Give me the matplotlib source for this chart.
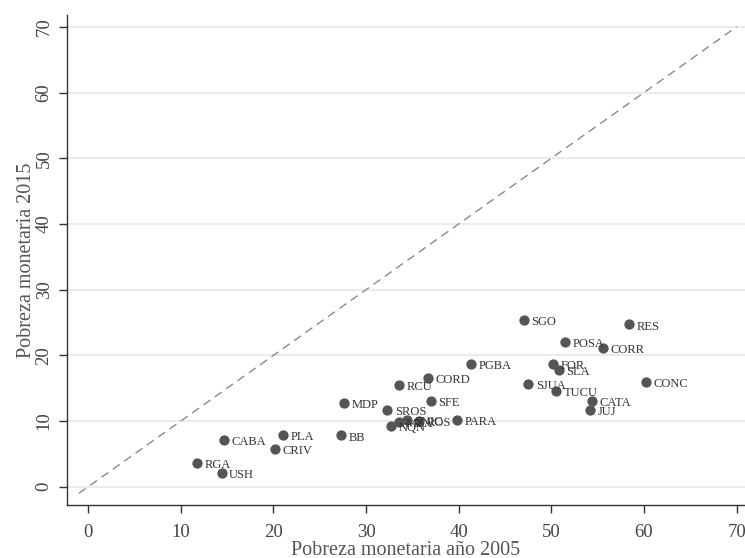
import matplotlib
matplotlib.use("Agg")
import matplotlib.pyplot as plt

labels = ["CABA", "PLA", "BB", "CRIV", "RGA", "USH", "PGBA", "CORD", "RCU", "MDP",
          "SROS", "SFE", "NQN", "MZA", "SNIC", "ROS", "PARA", "SGO", "RES", "POSA",
          "CORR", "FOR", "SLA", "SJUA", "TUCU", "CONC", "CATA", "JUJ"]
pobreza_2005 = [14.7, 21.0, 27.3, 20.2, 11.7, 14.4, 41.35, 36.7, 33.6, 27.6,
                32.3, 37.0, 32.7, 33.5, 34.4, 35.7, 39.8, 47.0, 58.4, 51.5,
                55.55, 50.2, 50.8, 47.5, 50.5, 60.2, 54.4, 54.2]
pobreza_2015 = [7.1, 7.9, 7.8, 5.7, 3.65, 2.1, 18.7, 16.6, 15.5, 12.7,
                11.7, 13.0, 9.3, 9.8, 10.15, 10.0, 10.15, 25.4, 24.7, 22.0,
                21.15, 18.7, 17.8, 15.7, 14.6, 15.9, 13.1, 11.7]
diag = [-1, 70]
ticks = [0, 10, 20, 30, 40, 50, 60, 70]

plt.rcParams['font.family'] = ['Liberation Serif', 'DejaVu Serif']

fig = plt.figure(figsize=(7.45, 5.58), dpi=100)
ax = fig.add_axes([66.5/745, 53/558, 678.5/745, 490/558])

ax.set_xlim(-2.34, 70.9)
ax.set_ylim(-2.78, 71.8)

for t in ticks:
    ax.axhline(t, color='#e8e8e8', lw=1.2, zorder=0)

ax.plot(diag, diag, color='#8a8a8a', lw=1.0, ls=(0, (6, 4)), zorder=1)
ax.scatter(pobreza_2005, pobreza_2015, s=55, color='#555555', zorder=3, linewidths=0)
for lab, x, y in zip(labels, pobreza_2005, pobreza_2015):
    ax.annotate(lab, (x, y), xytext=(5.5, -1.5), textcoords='offset points',
                fontsize=9, color='#333333', va='center', ha='left', zorder=4)

ax.set_xticks(ticks)
ax.set_yticks(ticks)
ax.set_yticklabels([str(t) for t in ticks], rotation=90, va='center')
ax.tick_params(axis='both', direction='out', length=6, width=1, color='#333333',
               labelsize=13.5, labelcolor='#444444')
ax.tick_params(axis='x', pad=8)
ax.tick_params(axis='y', pad=4)
for s in ['top', 'right']:
    ax.spines[s].set_visible(False)
for s in ['left', 'bottom']:
    ax.spines[s].set_color('#333333')
    ax.spines[s].set_linewidth(1.0)

ax.set_xlabel('Pobreza monetaria año 2005', fontsize=14.5, color='#555555', labelpad=0)
ax.set_ylabel('Pobreza monetaria 2015', fontsize=14.5, color='#555555', labelpad=0)

fig.savefig('out.png', dpi=100)
